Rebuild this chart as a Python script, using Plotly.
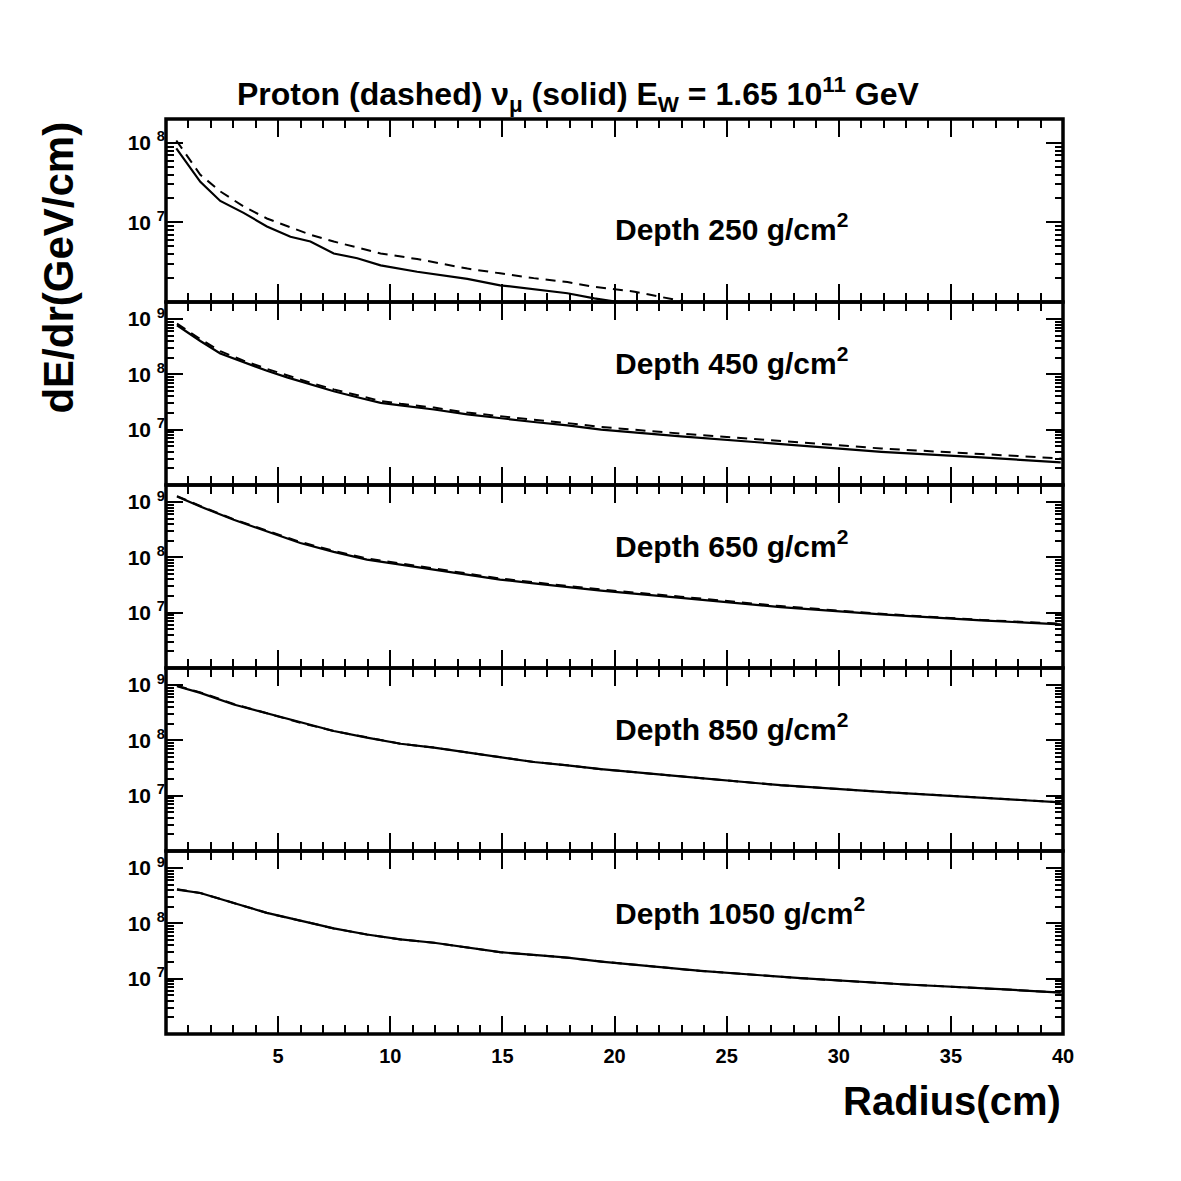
import plotly.graph_objects as go
from plotly.subplots import make_subplots

# ---------------- data ----------------
depths = [250, 450, 650, 850, 1050]

# Depth 250
r250_nu = [0.46, 1.53, 2.42, 3.46, 4.5, 5.55, 6.44, 7.48, 8.53, 9.57, 11.2, 13.44, 14.9, 16.4, 17.9, 19.1, 20.1, 22.0, 25.0, 30.0, 35.0, 40.0]
l250_nu = [7.93, 7.51, 7.27, 7.12, 6.95, 6.82, 6.76, 6.61, 6.55, 6.46, 6.38, 6.29, 6.21, 6.16, 6.11, 6.045, 6.0, 5.92, 5.8, 5.62, 5.47, 5.33]
r250_p = [0.46, 1.53, 2.42, 3.46, 4.5, 5.55, 6.44, 7.48, 8.53, 9.57, 11.2, 13.44, 14.9, 16.4, 17.9, 19.1, 20.9, 22.1, 23.2, 25.0, 30.0, 35.0, 40.0]
l250_p = [8.03, 7.60, 7.39, 7.20, 7.05, 6.94, 6.845, 6.76, 6.68, 6.61, 6.54, 6.42, 6.36, 6.30, 6.25, 6.19, 6.13, 6.06, 6.0, 5.93, 5.76, 5.61, 5.47]

# Depth 450
r450 = [0.49, 1.53, 2.42, 3.46, 4.5, 5.4, 6.44, 7.48, 8.53, 9.57, 10.46, 11.95, 13.44, 14.9, 16.4, 17.9, 19.4, 22.96, 27.4, 31.9, 36.35, 39.9]
l450_nu = [8.89, 8.605, 8.38, 8.22, 8.065, 7.946, 7.815, 7.695, 7.587, 7.485, 7.44, 7.366, 7.277, 7.205, 7.14, 7.08, 7.0, 6.88, 6.74, 6.60, 6.50, 6.41]
l450_p = [8.92, 8.64, 8.42, 8.25, 8.10, 7.98, 7.85, 7.73, 7.62, 7.52, 7.47, 7.40, 7.31, 7.24, 7.18, 7.12, 7.05, 6.93, 6.79, 6.66, 6.56, 6.48]

# Depth 650
r650 = [0.49, 1.53, 3.02, 4.5, 5.99, 7.48, 8.96, 10.46, 11.95, 13.44, 14.9, 16.4, 17.9, 19.4, 22.96, 27.4, 31.9, 36.35, 39.9]
l650_nu = [9.10, 8.92, 8.68, 8.47, 8.26, 8.10, 7.96, 7.87, 7.78, 7.69, 7.60, 7.53, 7.46, 7.40, 7.27, 7.10, 6.97, 6.86, 6.79]
l650_p = [9.11, 8.93, 8.69, 8.48, 8.28, 8.12, 7.98, 7.89, 7.80, 7.71, 7.62, 7.55, 7.48, 7.42, 7.29, 7.12, 6.98, 6.87, 6.80]

# Depth 850
r850 = [0.49, 1.53, 3.02, 4.5, 5.99, 7.48, 8.96, 10.46, 11.95, 13.44, 14.9, 16.4, 17.9, 19.4, 22.96, 27.4, 31.9, 36.35, 39.9]
l850_nu = [8.98, 8.86, 8.65, 8.49, 8.32, 8.17, 8.05, 7.94, 7.87, 7.78, 7.69, 7.61, 7.55, 7.48, 7.35, 7.19, 7.07, 6.96, 6.88]
l850_p = [8.99, 8.87, 8.66, 8.49, 8.32, 8.17, 8.05, 7.94, 7.87, 7.78, 7.69, 7.61, 7.55, 7.48, 7.35, 7.19, 7.07, 6.96, 6.88]

# Depth 1050
r1050 = [0.49, 1.53, 3.02, 4.5, 5.99, 7.48, 8.96, 10.46, 11.95, 13.44, 14.9, 16.4, 17.9, 19.4, 23.85, 28.3, 32.8, 37.2, 39.9]
l1050_nu = [8.61, 8.55, 8.37, 8.19, 8.05, 7.91, 7.80, 7.71, 7.65, 7.57, 7.48, 7.43, 7.38, 7.31, 7.14, 7.01, 6.90, 6.81, 6.75]
l1050_p = [8.62, 8.55, 8.37, 8.19, 8.05, 7.91, 7.80, 7.71, 7.65, 7.57, 7.48, 7.43, 7.38, 7.31, 7.14, 7.01, 6.90, 6.81, 6.75]

panels = [
    (r250_nu, l250_nu, r250_p, l250_p),
    (r450, l450_nu, r450, l450_p),
    (r650, l650_nu, r650, l650_p),
    (r850, l850_nu, r850, l850_p),
    (r1050, l1050_nu, r1050, l1050_p),
]

y_log_ranges = [[6.0, 8.3], [6.0, 9.31], [6.0, 9.31], [6.0, 9.31], [6.0, 9.31]]
major_exps = [[7, 8], [7, 8, 9], [7, 8, 9], [7, 8, 9], [7, 8, 9]]
x_ticks = [5, 10, 15, 20, 25, 30, 35, 40]
label_y = [0.41, 0.68, 0.68, 0.68, 0.67]

title_text = "Proton (dashed) ν<sub>μ</sub> (solid) E<sub>W</sub> = 1.65 10<sup>11</sup> GeV"

FONT = "Liberation Sans"

fig = make_subplots(rows=5, cols=1, shared_xaxes=True, vertical_spacing=0)

minor_vals = []
for e in range(6, 10):
    for m in range(2, 10):
        minor_vals.append(m * 10 ** e)

for i, (rn, ln, rp, lp) in enumerate(panels):
    row = i + 1
    fig.add_trace(go.Scatter(x=rp, y=[10 ** v for v in lp], mode="lines",
                             line=dict(color="black", width=2, dash="10px,7px"),
                             showlegend=False), row=row, col=1)
    fig.add_trace(go.Scatter(x=rn, y=[10 ** v for v in ln], mode="lines",
                             line=dict(color="black", width=2.2),
                             showlegend=False), row=row, col=1)

    fig.update_yaxes(type="log", range=y_log_ranges[i],
                     tickvals=[10 ** e for e in major_exps[i]],
                     ticktext=["<b>10 <sup>%d</sup></b>" % e for e in major_exps[i]],
                     ticks="inside", ticklen=17, tickwidth=2, tickcolor="black",
                     minor=dict(tickvals=minor_vals, ticks="inside", ticklen=8,
                                tickwidth=1.5, tickcolor="black"),
                     showline=False, mirror="ticks",
                     showgrid=False, zeroline=False,
                     tickfont=dict(family=FONT, size=21, color="black"),
                     row=row, col=1)
    fig.update_xaxes(range=[0, 40], tickvals=x_ticks,
                     ticktext=["<b>%d</b>" % v for v in x_ticks],
                     ticks="inside", ticklen=18, tickwidth=2, tickcolor="black",
                     minor=dict(dtick=1, tick0=0, ticks="inside", ticklen=9,
                                tickwidth=1.5, tickcolor="black"),
                     showline=False, mirror="ticks",
                     showgrid=False, zeroline=False,
                     showticklabels=(row == 5), ticklabelstandoff=8,
                     tickfont=dict(family=FONT, size=20, color="black"),
                     row=row, col=1)

    xr = "x domain" if row == 1 else "x%d domain" % row
    yr = "y domain" if row == 1 else "y%d domain" % row
    fig.add_shape(type="rect", xref=xr, yref=yr, x0=0, x1=1, y0=0, y1=1,
                  line=dict(color="black", width=3.5), fillcolor="rgba(0,0,0,0)",
                  layer="above")

    fig.add_annotation(text="<b>Depth %d g/cm<sup>2</sup></b>" % depths[i],
                       xref="paper", x=0.4985, xanchor="left",
                       yref=yr, y=label_y[i], yanchor="middle", showarrow=False,
                       font=dict(family=FONT, size=30, color="black"))

fig.add_annotation(text="<b>" + title_text + "</b>", xref="paper", yref="paper",
                   x=0.459, y=1.027, xanchor="center", yanchor="middle",
                   showarrow=False, font=dict(family=FONT, size=32, color="black"))
fig.add_annotation(text="<b>dE/dr(GeV/cm)</b>", xref="paper", yref="paper",
                   x=-0.12, y=0.838, xanchor="center", yanchor="middle",
                   textangle=-90, showarrow=False,
                   font=dict(family=FONT, size=42, color="black"))
fig.add_annotation(text="<b>Radius(cm)</b>", xref="paper", yref="paper",
                   x=1.0, y=-0.073, xanchor="right", yanchor="middle",
                   showarrow=False, font=dict(family=FONT, size=40, color="black"))

fig.update_layout(width=1181, height=1181,
                  margin=dict(l=158, r=126, t=111, b=155),
                  paper_bgcolor="white", plot_bgcolor="white",
                  showlegend=False)

fig.write_html("out.html")
